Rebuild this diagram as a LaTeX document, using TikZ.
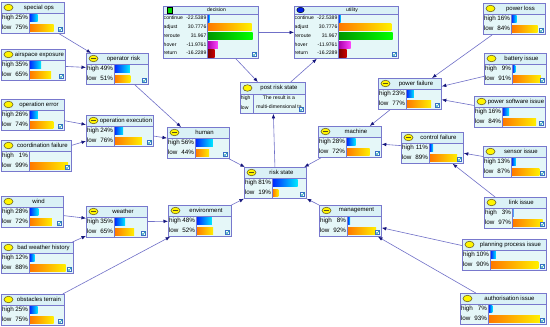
\documentclass[tikz,border=0pt]{standalone}
\usepackage{fontspec}
\setmainfont{Liberation Sans}
\usetikzlibrary{arrows.meta,shapes.geometric}

\definecolor{framecol}{RGB}{120,120,205}
\definecolor{headcyan}{RGB}{218,241,246}
\definecolor{bodycyan}{RGB}{229,247,248}
\definecolor{edgecol}{RGB}{112,112,200}
\definecolor{tipnavy}{RGB}{22,22,125}
\definecolor{iconyellow}{RGB}{255,245,0}
\definecolor{iconrim}{RGB}{90,80,30}

% chance node: name, x, y (top left), width, title, high, low, icon style
\newcommand\chancenode[8]{%
  \begin{scope}[shift={(#2,#3)}]
    \fill[headcyan] (0,0) rectangle (#4,11);
    \fill[bodycyan] (0,11) rectangle (#4,31);
    \shade[highbar] (28.6,12.3) rectangle ++({(#4-31)*#6/100},7.5);
    \shade[lowbar] (28.6,22.3) rectangle ++({(#4-31)*#7/100},7.5);
    \draw[rule] (0,11) -- (#4,11) (28,11) -- (28,31);
    \node[#8] (#1-icon) at (7.5,5.5) {};
    \node[titletxt] (#1-title) at ({(#4+13)/2},5.6) {#5};
    \node[rowtxt, anchor=west] (#1-hi) at (0.8,16.2) {high};
    \node[rowtxt, anchor=east] (#1-hp) at (27.2,16.2) {#6\%};
    \node[rowtxt, anchor=west] (#1-lo) at (0.8,26.2) {low};
    \node[rowtxt, anchor=east] (#1-lp) at (27.2,26.2) {#7\%};
    \draw[tickbox] ({#4-6},25) rectangle ({#4-1.5},29.5);
    \draw[tickmark] ({#4-5.2},27.2) -- ++(1.2,1.4) -- ++(2.2,-3);
  \end{scope}
  \node[nodeframe, minimum width=#4pt, minimum height=31pt, anchor=north west] (#1) at (#2,#3) {};
}

% decision / utility node: name, x, y, width, title, icon style
\newcommand\utilnode[6]{%
  \begin{scope}[shift={(#2,#3)}]
    \fill[headcyan] (0,0) rectangle (#4,8);
    \fill[bodycyan] (0,8) rectangle (#4,52);
    \foreach \rowname/\rowval/\rowbar [count=\i] in
      {continue/-22.5389/highbar, adjust/30.7776/lowbar, reroute/31.967/reroutebar,
       hover/-11.9761/hoverbar, return/-16.2289/returnbar}{
      \shade[\rowbar] (44.6,{8+(\i-1)*8.8+0.7}) rectangle ++({2+(\rowval+22.5389)*(#4-52)/54.5},7.4);
      \node[tinytxt, anchor=west] (#1-l\i) at (0.5,{8+(\i-0.5)*8.8}) {\rowname};
      \node[tinytxt, anchor=east] (#1-v\i) at (43.6,{8+(\i-0.5)*8.8}) {\rowval};
    }
    \draw[rule] (0,8) -- (#4,8) (44,8) -- (44,52);
    \node[#6] (#1-icon) at (6.5,4) {};
    \node[tinytxt] (#1-title) at ({(#4+12)/2},4.2) {#5};
    \draw[tickbox] ({#4-6},46) rectangle ({#4-1.5},50.5);
    \draw[tickmark] ({#4-5.2},48.2) -- ++(1.2,1.4) -- ++(2.2,-3);
  \end{scope}
  \node[nodeframe, minimum width=#4pt, minimum height=52pt, anchor=north west] (#1) at (#2,#3) {};
}

\begin{document}
\begin{tikzpicture}[
x=1pt, y=-1pt,
nodeframe/.style={draw=framecol, line width=0.8pt, inner sep=0pt},
rule/.style={draw=framecol, line width=0.6pt},
titletxt/.style={font=\fontsize{6}{7}\selectfont, inner sep=0pt},
rowtxt/.style={font=\fontsize{6.3}{7}\selectfont, inner sep=0pt, text height=4.6pt, text depth=1.3pt},
tinytxt/.style={font=\fontsize{5.1}{6}\selectfont, inner sep=0pt, text height=3.8pt, text depth=1.1pt},
highbar/.style={left color={rgb,255:red,0;green,40;blue,255}, right color={rgb,255:red,0;green,235;blue,255}},
lowbar/.style={left color={rgb,255:red,255;green,120;blue,0}, right color={rgb,255:red,255;green,240;blue,0}},
reroutebar/.style={left color={rgb,255:red,0;green,150;blue,0}, right color={rgb,255:red,0;green,255;blue,0}},
hoverbar/.style={left color={rgb,255:red,170;green,0;blue,170}, right color={rgb,255:red,255;green,70;blue,255}},
returnbar/.style={left color={rgb,255:red,120;green,0;blue,0}, right color={rgb,255:red,205;green,0;blue,0}},
tickbox/.style={draw={rgb,255:red,60;green,110;blue,200}, fill=white, line width=0.4pt},
tickmark/.style={draw={rgb,255:red,0;green,150;blue,160}, line width=0.6pt},
leafmark/.style={ellipse, draw=iconrim, fill=iconyellow, minimum width=9pt, minimum height=6.5pt, inner sep=0pt, line width=0.5pt},
parentmark/.style={leafmark, path picture={\draw[iconrim, line width=0.7pt]
  ([xshift=2pt]path picture bounding box.west) -- ([xshift=-2pt]path picture bounding box.east);}},
decisionmark/.style={rectangle, draw=black, fill={rgb,255:red,0;green,220;blue,0}, minimum size=5.5pt, inner sep=0pt, line width=0.4pt},
utilitymark/.style={ellipse, draw=black, fill={rgb,255:red,0;green,30;blue,230}, minimum width=7.5pt, minimum height=5.5pt, inner sep=0pt, line width=0.4pt},
edge/.style={draw=edgecol, line width=0.6pt, -{Latex[length=4.5pt,width=3.6pt,color=tipnavy]}}
]

\path[use as bounding box, fill=white] (0,0) rectangle (550,327);

%%%%%%%%%%%%%%%%%%%%%%%%%%%%%%%%%%%%%%%%%%%%%%%%%%%%%%%%%%%%%%
% HUMAN BRANCH
%%%%%%%%%%%%%%%%%%%%%%%%%%%%%%%%%%%%%%%%%%%%%%%%%%%%%%%%%%%%%%

\chancenode{specialops}{1}{2}{63}{special ops}{25}{75}{leafmark}
\chancenode{airspace}{1}{49}{64}{airspace exposure}{35}{65}{leafmark}
\chancenode{operatorrisk}{86}{53}{62}{operator risk}{49}{51}{parentmark}
\chancenode{operror}{1}{99}{63}{operation error}{26}{74}{leafmark}
\chancenode{coordfail}{1}{140}{70}{coordination failure}{1}{99}{leafmark}
\chancenode{opexec}{86}{115}{67}{operation execution}{24}{76}{parentmark}
\chancenode{human}{167}{127}{62}{human}{56}{44}{parentmark}

%%%%%%%%%%%%%%%%%%%%%%%%%%%%%%%%%%%%%%%%%%%%%%%%%%%%%%%%%%%%%%
% ENVIRONMENT BRANCH
%%%%%%%%%%%%%%%%%%%%%%%%%%%%%%%%%%%%%%%%%%%%%%%%%%%%%%%%%%%%%%

\chancenode{wind}{1}{196}{62}{wind}{28}{72}{leafmark}
\chancenode{badweather}{1}{242}{72}{bad weather history}{12}{88}{leafmark}
\chancenode{obstacles}{1}{294}{63}{obstacles terrain}{25}{75}{leafmark}
\chancenode{weather}{86}{206}{61}{weather}{35}{65}{parentmark}
\chancenode{environment}{168}{205}{63}{environment}{48}{52}{parentmark}

%%%%%%%%%%%%%%%%%%%%%%%%%%%%%%%%%%%%%%%%%%%%%%%%%%%%%%%%%%%%%%
% MACHINE BRANCH
%%%%%%%%%%%%%%%%%%%%%%%%%%%%%%%%%%%%%%%%%%%%%%%%%%%%%%%%%%%%%%

\chancenode{powerloss}{483}{3}{62}{power loss}{16}{84}{leafmark}
\chancenode{battery}{484}{53}{62}{battery issue}{9}{91}{leafmark}
\chancenode{powersoft}{474}{96}{71}{power software issue}{16}{84}{leafmark}
\chancenode{powerfail}{378}{78}{63}{power failure}{23}{77}{parentmark}
\chancenode{sensor}{483}{146}{63}{sensor issue}{13}{87}{leafmark}
\chancenode{link}{484}{197}{62}{link issue}{3}{97}{leafmark}
\chancenode{controlfail}{401}{132}{62}{control failure}{11}{89}{parentmark}
\chancenode{machine}{318}{126}{63}{machine}{28}{72}{parentmark}

%%%%%%%%%%%%%%%%%%%%%%%%%%%%%%%%%%%%%%%%%%%%%%%%%%%%%%%%%%%%%%
% MANAGEMENT BRANCH
%%%%%%%%%%%%%%%%%%%%%%%%%%%%%%%%%%%%%%%%%%%%%%%%%%%%%%%%%%%%%%

\chancenode{planning}{462}{239}{84}{planning process issue}{10}{90}{leafmark}
\chancenode{authorisation}{460}{293}{86}{authorisation issue}{7}{93}{leafmark}
\chancenode{management}{319}{205}{62}{management}{8}{92}{parentmark}

%%%%%%%%%%%%%%%%%%%%%%%%%%%%%%%%%%%%%%%%%%%%%%%%%%%%%%%%%%%%%%
% RISK STATE AND DECISION
%%%%%%%%%%%%%%%%%%%%%%%%%%%%%%%%%%%%%%%%%%%%%%%%%%%%%%%%%%%%%%

\chancenode{risk}{244}{167}{62}{risk state}{81}{19}{parentmark}

\utilnode{decision}{163}{6}{95}{decision}{decisionmark}
\utilnode{utility}{294}{6}{104}{utility}{utilitymark}

% post risk state
\fill[headcyan] (240,82) rectangle (305,94);
\fill[bodycyan] (240,94) rectangle (305,113);
\draw[rule] (240,94) -- (305,94) (253,94) -- (253,113);
\node[leafmark] (prs-icon) at (247.5,88) {};
\node[titletxt] (prs-title) at (279,88) {post risk state};
\node[tinytxt, anchor=west] (prs-hi) at (240.6,98.6) {high};
\node[tinytxt, anchor=west] (prs-lo) at (240.6,108) {low};
\node[tinytxt] (prs-t1) at (279,98.6) {The result is a};
\node[tinytxt] (prs-t2) at (279,107.6) {multi-dimensional ta};
\draw[tickbox] (299,107) rectangle (303.5,111.5);
\draw[tickmark] (299.8,109.2) -- ++(1.2,1.4) -- ++(2.2,-3);
\node[
nodeframe,
minimum width=65pt,
minimum height=31pt,
anchor=north west
](prs)
at (240,82)
{};

%%%%%%%%%%%%%%%%%%%%%%%%%%%%%%%%%%%%%%%%%%%%%%%%%%%%%%%%%%%%%%
% CONNECTIONS
%%%%%%%%%%%%%%%%%%%%%%%%%%%%%%%%%%%%%%%%%%%%%%%%%%%%%%%%%%%%%%

\draw[edge] (specialops)--(operatorrisk);
\draw[edge] (airspace)--(operatorrisk);
\draw[edge] (operatorrisk)--(human);
\draw[edge] (operror)--(opexec);
\draw[edge] (coordfail)--(opexec);
\draw[edge] (opexec)--(human);

\draw[edge] (wind)--(weather);
\draw[edge] (badweather)--(weather);
\draw[edge] (weather)--(environment);
\draw[edge] (obstacles)--(environment);

\draw[edge] (powerloss)--(powerfail);
\draw[edge] (battery)--(powerfail);
\draw[edge] (powersoft)--(powerfail);
\draw[edge] (powerfail)--(machine);
\draw[edge] (sensor)--(controlfail);
\draw[edge] (link)--(controlfail);
\draw[edge] (controlfail)--(machine);

\draw[edge] (planning)--(management);
\draw[edge] (authorisation)--(management);

\draw[edge] (human)--(risk);
\draw[edge] (machine)--(risk);
\draw[edge] (environment)--(risk);
\draw[edge] (management)--(risk);

\draw[edge] (risk)--(prs);
\draw[edge] (decision)--(prs);
\draw[edge] (prs)--(utility);
\draw[edge] (decision)--(utility);

\end{tikzpicture}
\end{document}
